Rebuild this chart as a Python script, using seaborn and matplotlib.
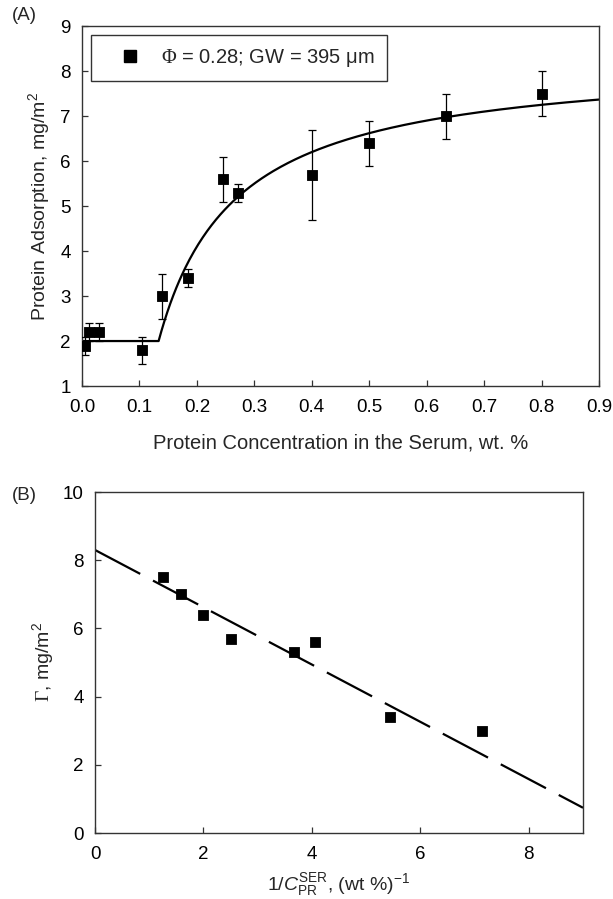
import numpy as np
import pandas as pd
import matplotlib
matplotlib.use("Agg")
import matplotlib.pyplot as plt
from matplotlib.lines import Line2D
import seaborn as sns

# Protein adsorption vs. protein concentration in the serum
conc = [0.005, 0.013, 0.03, 0.105, 0.14, 0.184, 0.246, 0.272, 0.40, 0.50, 0.633, 0.80]
adsorption = [1.9, 2.2, 2.2, 1.8, 3.0, 3.4, 5.6, 5.3, 5.7, 6.4, 7.0, 7.5]
adsorption_err = [0.2, 0.2, 0.2, 0.3, 0.5, 0.2, 0.5, 0.2, 1.0, 0.5, 0.5, 0.5]

# Linear fit of Gamma vs 1/C (panel B) and the plateau below the threshold
fit_intercept = 8.3
fit_slope = -0.84
plateau = 2.0
c_threshold = 0.14  # points used in the reciprocal plot

sns.set_theme(style="white")
plt.rcParams.update({
    "font.family": ["Liberation Sans", "DejaVu Sans"],
    "mathtext.fontset": "custom",
    "mathtext.rm": "Liberation Sans",
    "mathtext.it": "Liberation Sans:italic",
    "mathtext.sf": "Liberation Serif",
    "xtick.direction": "in",
    "ytick.direction": "in",
    "xtick.major.size": 4,
    "ytick.major.size": 4,
    "xtick.major.width": 0.9,
    "ytick.major.width": 0.9,
    "xtick.bottom": True,
    "ytick.left": True,
    "axes.edgecolor": "#333333",
    "axes.linewidth": 1.0,
})

fig = plt.figure(figsize=(6.13, 8.99), dpi=100)
ax1 = fig.add_axes([0.1338, 0.5706, 0.8434, 0.4004])
ax2 = fig.add_axes([0.155, 0.0734, 0.7961, 0.3793])

# ---- Panel A ----
df = pd.DataFrame({"c": conc, "g": adsorption, "e": adsorption_err})

c_knee = -fit_slope / (fit_intercept - plateau)
c_curve = np.linspace(c_knee, 0.9, 300)
curve = pd.DataFrame({
    "c": np.concatenate([[0.0], c_curve]),
    "g": np.concatenate([[plateau], fit_intercept + fit_slope / c_curve]),
})
sns.lineplot(data=curve, x="c", y="g", ax=ax1, color="black", lw=1.6,
             sort=False, estimator=None)
ax1.errorbar(df["c"], df["g"], yerr=df["e"], fmt="none", ecolor="black",
             elinewidth=0.9, capsize=2.8, capthick=0.9, zorder=3)
sns.scatterplot(data=df, x="c", y="g", ax=ax1, marker="s", s=60,
                color="black", edgecolor="black", zorder=4)

ax1.set_xlim(0, 0.9)
ax1.set_ylim(1, 9)
ax1.set_xticks(np.arange(0, 0.91, 0.1))
ax1.set_xticklabels([f"{v:.1f}" for v in np.arange(0, 0.91, 0.1)])
ax1.set_yticks(range(1, 10))
ax1.tick_params(axis="x", labelsize=13.5, pad=9, colors="#333333", labelcolor="black")
ax1.tick_params(axis="y", labelsize=13.5, pad=8, colors="#333333", labelcolor="black")
ax1.set_xlabel("Protein Concentration in the Serum, wt. %", fontsize=14.5, labelpad=13)
ax1.set_ylabel("Protein Adsorption, mg/m$^2$", fontsize=14, labelpad=6)

handle = Line2D([], [], marker="s", color="black", lw=0, markersize=8)
leg = ax1.legend([handle], [r"$\mathsf{\Phi}$ = 0.28; GW = 395 μm"],
                 loc="upper left", bbox_to_anchor=(0.018, 0.975),
                 fontsize=14.5, frameon=True, fancybox=False,
                 borderpad=0.6, handletextpad=0.25, handlelength=2.6,
                 borderaxespad=0)
leg.get_frame().set_edgecolor("black")
leg.get_frame().set_linewidth(1.0)

fig.text(0.02, 0.983, "(A)", fontsize=13.5, ha="left", va="center")

# ---- Panel B ----
sel = df[df["c"] >= c_threshold]
recip = pd.DataFrame({"x": 1.0 / sel["c"], "g": sel["g"]})
x_line = np.array([0.0, 9.0])
line = pd.DataFrame({"x": x_line, "g": fit_intercept + fit_slope * x_line})

sns.lineplot(data=line, x="x", y="g", ax=ax2, color="black", lw=1.6,
             estimator=None, dashes=False)
ax2.lines[-1].set_dashes((23, 6.5))
sns.scatterplot(data=recip, x="x", y="g", ax=ax2, marker="s", s=55,
                color="black", edgecolor="black", zorder=4)

ax2.set_xlim(0, 9)
ax2.set_ylim(0, 10)
ax2.set_xticks([0, 2, 4, 6, 8])
ax2.set_yticks([0, 2, 4, 6, 8, 10])
ax2.tick_params(axis="x", labelsize=13.5, pad=9, colors="#333333", labelcolor="black")
ax2.tick_params(axis="y", labelsize=13.5, pad=8, colors="#333333", labelcolor="black")
ax2.set_xlabel(r"1/$\mathit{C}_{\mathrm{PR}}^{\mathrm{SER}}$, (wt %)$^{-1}$",
               fontsize=14, labelpad=6)
ax2.set_ylabel(r"$\mathsf{\Gamma}$, mg/m$^2$", fontsize=14, labelpad=5)

fig.text(0.02, 0.449, "(B)", fontsize=13.5, ha="left", va="center")

fig.savefig("out.png", dpi=100)
